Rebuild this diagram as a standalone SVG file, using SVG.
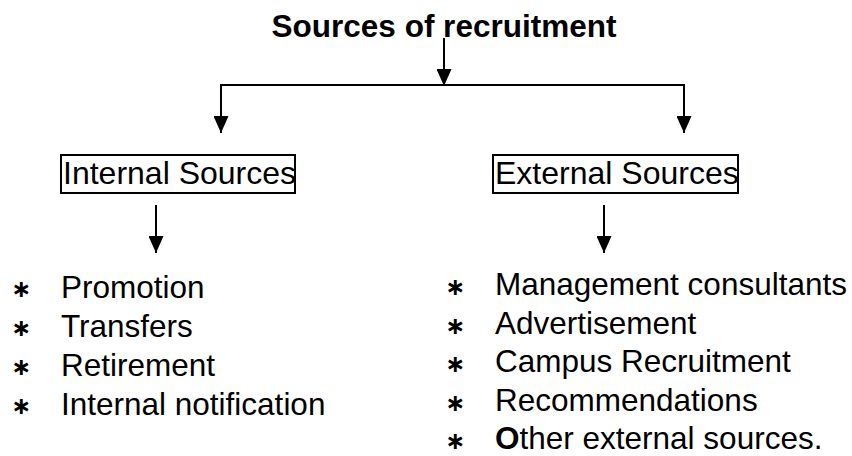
<svg xmlns="http://www.w3.org/2000/svg" width="852" height="456" viewBox="0 0 852 456">
  <style>
    .title { font-family: "Liberation Sans", Arial, sans-serif; font-size: 31.5px; font-weight: bold; fill: #000; }
    .label { font-family: "Liberation Sans", Arial, sans-serif; font-size: 32px; fill: #000; }
    .item { font-family: "Liberation Sans", Arial, sans-serif; font-size: 31.5px; fill: #000; }
    .bullet { font-family: "DejaVu Sans", sans-serif; font-size: 24px; font-weight: bold; fill: #000; }
    .box { fill: #fff; stroke: #000; stroke-width: 2; }
    .wire { fill: none; stroke: #000; stroke-width: 2; }
  </style>
  <defs>
    <!-- solid triangular head, tip placed at the line end -->
    <marker id="head" markerUnits="userSpaceOnUse" markerWidth="17" markerHeight="15" viewBox="0 0 17 15" refX="17" refY="7.5" orient="auto">
      <path d="M0,0 L17,7.5 L0,15 Z" fill="#000"/>
    </marker>
  </defs>

  <g id="root">
    <text class="title" x="444" y="37" text-anchor="middle">Sources of recruitment</text>
  </g>

  <g id="connectors">
    <line class="wire" x1="444" y1="38" x2="444" y2="86" marker-end="url(#head)"/>
    <polyline class="wire" points="221,86 221,85 684,85 684,86"/>
    <line class="wire" x1="221" y1="84" x2="221" y2="133" marker-end="url(#head)"/>
    <line class="wire" x1="684" y1="84" x2="684" y2="133" marker-end="url(#head)"/>
    <line class="wire" x1="156" y1="205" x2="156" y2="253" marker-end="url(#head)"/>
    <line class="wire" x1="604" y1="205" x2="604" y2="253" marker-end="url(#head)"/>
  </g>

  <g id="internal">
    <rect class="box" x="61" y="155" width="234" height="38"/>
    <text class="label" x="63" y="184">Internal Sources</text>
  </g>

  <g id="external">
    <rect class="box" x="493" y="155" width="245" height="38"/>
    <text class="label" x="495" y="184">External Sources</text>
  </g>

  <g id="internal-list">
    <text class="bullet" x="11" y="297">∗</text>
    <text class="item" x="61" y="298">Promotion</text>
    <text class="bullet" x="11" y="336">∗</text>
    <text class="item" x="61" y="337">Transfers</text>
    <text class="bullet" x="11" y="375">∗</text>
    <text class="item" x="61" y="376">Retirement</text>
    <text class="bullet" x="11" y="414">∗</text>
    <text class="item" x="61" y="415">Internal notification</text>
  </g>

  <g id="external-list">
    <text class="bullet" x="445" y="295">∗</text>
    <text class="item" x="495" y="295">Management consultants</text>
    <text class="bullet" x="445" y="334">∗</text>
    <text class="item" x="495" y="334">Advertisement</text>
    <text class="bullet" x="445" y="372">∗</text>
    <text class="item" x="495" y="372">Campus Recruitment</text>
    <text class="bullet" x="445" y="411">∗</text>
    <text class="item" x="495" y="411">Recommendations</text>
    <text class="bullet" x="445" y="449">∗</text>
    <text class="item" x="495" y="449"><tspan font-weight="bold">O</tspan>ther external sources.</text>
  </g>
</svg>
